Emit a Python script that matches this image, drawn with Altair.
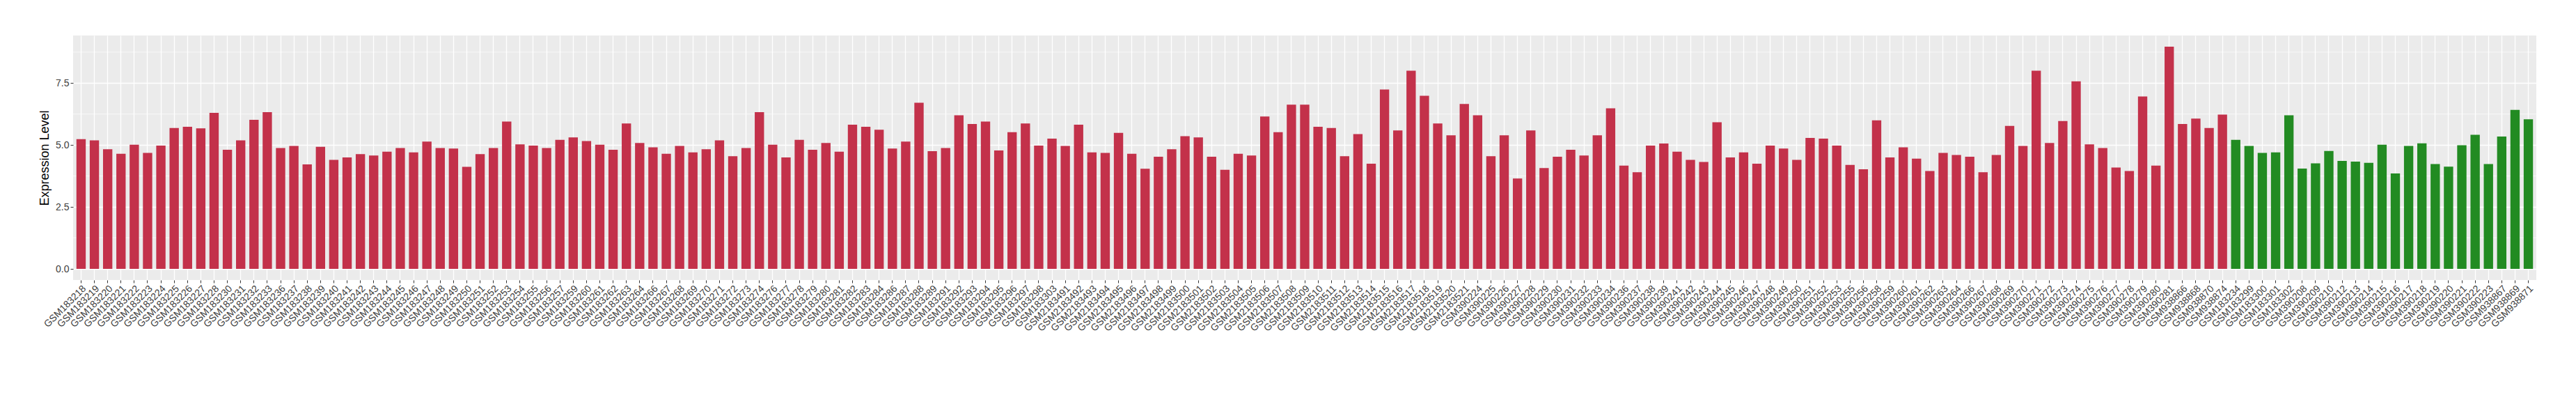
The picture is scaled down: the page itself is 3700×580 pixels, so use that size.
import altair as alt
import pandas as pd

red_labels = [
    "GSM183218", "GSM183219", "GSM183220", "GSM183221", "GSM183222", "GSM183223", "GSM183224",
    "GSM183225", "GSM183226", "GSM183227", "GSM183228", "GSM183230", "GSM183231", "GSM183232",
    "GSM183233", "GSM183236", "GSM183237", "GSM183238", "GSM183239", "GSM183240", "GSM183241",
    "GSM183242", "GSM183243", "GSM183244", "GSM183245", "GSM183246", "GSM183247", "GSM183248",
    "GSM183249", "GSM183250", "GSM183251", "GSM183252", "GSM183253", "GSM183254", "GSM183255",
    "GSM183256", "GSM183257", "GSM183259", "GSM183260", "GSM183261", "GSM183262", "GSM183263",
    "GSM183264", "GSM183266", "GSM183267", "GSM183268", "GSM183269", "GSM183270", "GSM183271",
    "GSM183272", "GSM183273", "GSM183274", "GSM183276", "GSM183277", "GSM183278", "GSM183279",
    "GSM183280", "GSM183281", "GSM183282", "GSM183283", "GSM183284", "GSM183286", "GSM183287",
    "GSM183288", "GSM183289", "GSM183291", "GSM183292", "GSM183293", "GSM183294", "GSM183295",
    "GSM183296", "GSM183297", "GSM183298", "GSM183303",
    "GSM2183491", "GSM2183492", "GSM2183493", "GSM2183494", "GSM2183495", "GSM2183496",
    "GSM2183497", "GSM2183498", "GSM2183499", "GSM2183500", "GSM2183501", "GSM2183502",
    "GSM2183503", "GSM2183504", "GSM2183505", "GSM2183506", "GSM2183507", "GSM2183508",
    "GSM2183509", "GSM2183510", "GSM2183511", "GSM2183512", "GSM2183513", "GSM2183514",
    "GSM2183515", "GSM2183516", "GSM2183517", "GSM2183518", "GSM2183519", "GSM2183520",
    "GSM2183521",
    "GSM390224", "GSM390225", "GSM390226", "GSM390227", "GSM390228", "GSM390229", "GSM390230",
    "GSM390231", "GSM390232", "GSM390233", "GSM390234", "GSM390236", "GSM390237", "GSM390238",
    "GSM390239", "GSM390241", "GSM390242", "GSM390243", "GSM390244", "GSM390245", "GSM390246",
    "GSM390247", "GSM390248", "GSM390249", "GSM390250", "GSM390251", "GSM390252", "GSM390253",
    "GSM390255", "GSM390256", "GSM390258", "GSM390259", "GSM390260", "GSM390261", "GSM390262",
    "GSM390263", "GSM390264", "GSM390266", "GSM390267", "GSM390268", "GSM390269", "GSM390270",
    "GSM390271", "GSM390272", "GSM390273", "GSM390274", "GSM390275", "GSM390276", "GSM390277",
    "GSM390278", "GSM390279", "GSM390280", "GSM390281",
    "GSM938866", "GSM938868", "GSM938870", "GSM938874",
]
red_values = [
    5.24, 5.19, 4.83, 4.65, 5.01, 4.68, 4.98, 5.69, 5.74, 5.67, 6.30, 4.81, 5.19, 6.02,
    6.33, 4.88, 4.96, 4.22, 4.93, 4.40, 4.50, 4.63, 4.58, 4.73, 4.88, 4.70, 5.14, 4.88,
    4.86, 4.12, 4.63, 4.88, 5.95, 5.03, 4.98, 4.88, 5.21, 5.31, 5.16, 5.01, 4.81, 5.87,
    5.08, 4.91, 4.65, 4.96, 4.70, 4.83, 5.19, 4.55, 4.88, 6.33, 5.01, 4.50, 5.21, 4.81,
    5.08, 4.73, 5.82, 5.74, 5.62, 4.86, 5.14, 6.71, 4.75, 4.88, 6.20, 5.85, 5.95, 4.78,
    5.52, 5.87, 4.98, 5.26,
    4.96, 5.82, 4.70, 4.68, 5.49, 4.65, 4.04, 4.53, 4.83, 5.36, 5.31, 4.53, 4.00, 4.65,
    4.58, 6.15, 5.52, 6.63, 6.63, 5.74, 5.69, 4.55, 5.44, 4.25, 7.24, 5.59, 8.00, 6.99,
    5.87, 5.39, 6.66,
    6.20, 4.55, 5.39, 3.65, 5.59, 4.07, 4.53, 4.81, 4.58, 5.39, 6.48, 4.17, 3.90, 4.98,
    5.06, 4.73, 4.40, 4.32, 5.92, 4.50, 4.70, 4.25, 4.98, 4.86, 4.40, 5.29, 5.26, 4.98,
    4.20, 4.02, 6.00, 4.50, 4.91, 4.45, 3.95, 4.68, 4.60, 4.53, 3.90, 4.60, 5.77, 4.96,
    8.00, 5.08, 5.97, 7.57, 5.03, 4.88, 4.09, 3.95, 6.96, 4.17, 8.97,
    5.85, 6.07, 5.69, 6.23,
]
green_labels = [
    "GSM183234", "GSM183299", "GSM183300", "GSM183301", "GSM183302",
    "GSM390208", "GSM390209", "GSM390210", "GSM390212", "GSM390213", "GSM390214",
    "GSM390215", "GSM390216", "GSM390217", "GSM390218", "GSM390219", "GSM390220",
    "GSM390221", "GSM390222", "GSM390223",
    "GSM938867", "GSM938869", "GSM938871",
]
green_values = [
    5.21, 4.96, 4.68, 4.70, 6.20,
    4.05, 4.26, 4.76, 4.36, 4.33, 4.28, 5.01, 3.85, 4.96, 5.07, 4.23, 4.13, 4.99, 5.41, 4.23,
    5.34, 6.42, 6.04,
]

y_ticks = [0, 2.5, 5, 7.5]
y_minor = [1.25, 3.75, 6.25, 8.75]
y_domain = [-0.449, 9.42]
group_names = ["red", "green"]
group_colors = ["#C3314A", "#228B22"]

labels = red_labels + green_labels
values = red_values + green_values
groups = [group_names[0]] * len(red_labels) + [group_names[1]] * len(green_labels)
df = pd.DataFrame({"sample": labels, "value": values, "group": groups})
minor_df = pd.DataFrame({"value": y_minor})

FONT = "Liberation Sans"
yscale = alt.Scale(domain=y_domain, nice=False, zero=False)
yaxis = alt.Axis(
    values=y_ticks,
    format=".1f",
    title="Expression Level",
    titlePadding=6,
    labelPadding=2,
)

minor = alt.Chart(minor_df).mark_rule(color="white", strokeWidth=0.7).encode(
    y=alt.Y("value:Q", scale=yscale, axis=yaxis, title="Expression Level")
)

bars = alt.Chart(df).mark_bar().encode(
    x=alt.X(
        "sample:N",
        sort=labels,
        scale=alt.Scale(paddingInner=0.3, paddingOuter=0.25),
        axis=alt.Axis(
            title=None,
            labelAngle=315,
            labelAlign="right",
            labelBaseline="top",
            labelPadding=1,
            bandPosition=0.5,
            grid=True,
            labelOverlap=False,
        ),
    ),
    y=alt.Y("value:Q", scale=yscale, axis=yaxis, title="Expression Level"),
    y2=alt.datum(0),
    color=alt.Color(
        "group:N",
        scale=alt.Scale(domain=group_names, range=group_colors),
        legend=None,
    ),
)

chart = (
    alt.layer(minor, bars)
    .properties(
        width=3538,
        height=351,
        padding={"left": 47, "top": 43, "right": 5, "bottom": 5},
    )
    .configure_view(fill="#EBEBEB", strokeWidth=0, stroke="transparent")
    .configure_axis(
        domain=False,
        gridColor="white",
        gridWidth=1.3,
        tickColor="#333333",
        tickSize=4,
        tickWidth=1,
        labelColor="#404040",
        labelFont=FONT,
        labelFontSize=14,
        titleFont=FONT,
        titleFontSize=18,
        titleFontWeight="normal",
        titleColor="black",
    )
)

chart.save("out.html", embed_options={"renderer": "svg", "actions": False})
